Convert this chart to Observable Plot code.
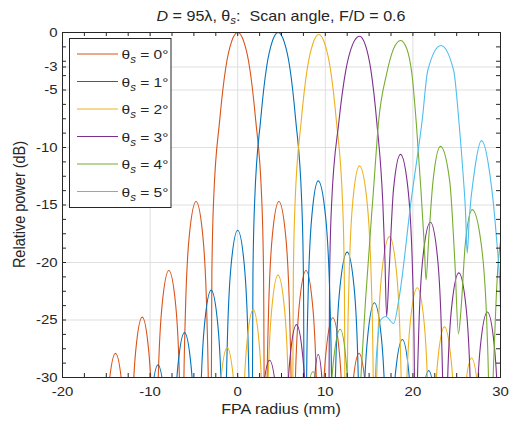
<!DOCTYPE html>
<html>
<head>
<meta charset="utf-8">
<script src="https://cdn.jsdelivr.net/npm/d3@7"></script>
<script src="https://cdn.jsdelivr.net/npm/@observablehq/plot@0.6"></script>
<style>
  html, body { margin: 0; padding: 0; background: #fff; }
  #chart svg { display: block; }
</style>
</head>
<body>
<div id="chart"></div>
<script>
// ---------- data ----------
const seriesNames = ["θs = 0°", "θs = 1°", "θs = 2°", "θs = 3°", "θs = 4°", "θs = 5°"];
const seriesColors = ["#D95319", "#0072BD", "#EDB120", "#7E2F8E", "#77AC30", "#4DBEEE"];

const xTicks = [-20, -10, 0, 10, 20, 30];
const yTicks = [0, -3, -5, -10, -15, -20, -25, -30];
const xMinorTicks = [-17.5, -15, -12.5, -7.5, -5, -2.5, 2.5, 5, 7.5, 12.5, 15, 17.5, 22.5, 25, 27.5];
const yMinorTicks = [-1.25, -2.5, -3.75, -6.25, -7.5, -8.75, -11.25, -12.5, -13.75, -16.25, -17.5, -18.75, -21.25, -22.5, -23.75, -26.25, -27.5, -28.75];

// FPA radius (mm), relative power (dB); points below -30 dB are nulls outside the frame
const theta0 = [
  [-15.5,-60],[-15.19,-38.1],[-14.73,-30.9],[-13.95,-27.9],[-13.18,-30.9],[-12.7,-38.1],
  [-12.4,-60],[-12.1,-35],[-11.65,-27.75],[-10.9,-24.75],[-10.15,-27.75],[-9.7,-35],
  [-9.4,-60],[-9.28,-38.7],[-9.1,-30.9],[-8.63,-23.7],[-7.86,-20.7],[-7.08,-23.7],[-6.62,-30.9],[-6.43,-38.7],
  [-6.3,-60],[-6.18,-32.7],[-5.99,-24.9],[-5.53,-17.7],[-4.75,-14.7],[-3.98,-17.7],[-3.51,-24.9],[-3.32,-32.7],
  [-3.2,-60],[-2.95,-21],[-2.75,-14.6],[-2.05,-7.6],[-1.35,-3],[-0.7,-0.8],[0,0],[0.7,-0.8],[1.35,-3],[2.05,-7.6],[2.75,-14.6],[2.95,-21],
  [3.2,-60],[3.32,-32.7],[3.5,-24.9],[3.95,-17.7],[4.7,-14.7],[5.48,-17.7],[5.94,-24.9],[6.13,-32.7],
  [6.25,-60],[6.37,-38.7],[6.56,-30.9],[7.03,-23.7],[7.8,-20.7],[8.55,-23.7],[9.0,-30.9],[9.18,-38.7],
  [9.3,-60],[9.61,-35],[10.08,-27.8],[10.86,-24.8],[11.6,-27.8],[12.05,-35],
  [12.35,-60],[12.65,-38.1],[13.1,-30.9],[13.85,-27.9],[14.6,-30.9],[15.05,-38.1],
  [15.35,-60]
];
const theta1 = [
  [-10.6,-60],[-10.3,-39.1],[-9.85,-31.9],[-9.1,-28.9],[-8.35,-31.9],[-7.9,-39.1],
  [-7.6,-60],[-7.29,-36.3],[-6.84,-29.1],[-6.07,-26.1],[-5.31,-29.1],[-4.85,-36.3],
  [-4.55,-60],[-4.25,-32.6],[-3.79,-25.4],[-3.03,-22.4],[-2.27,-25.4],[-1.81,-32.6],
  [-1.5,-60],[-1.38,-35.2],[-1.2,-27.4],[-0.75,-20.2],[0,-17.2],[0.75,-20.2],[1.2,-27.4],[1.38,-35.2],
  [1.5,-60],[1.74,-21],[1.94,-14.6],[2.62,-7.6],[3.3,-3],[3.94,-0.8],[4.62,0],[5.3,-0.8],[5.94,-3],[6.62,-7.6],[7.3,-14.6],[7.5,-21],
  [7.74,-60],[7.86,-30.9],[8.03,-23.1],[8.47,-15.9],[9.19,-12.9],[10.02,-15.9],[10.52,-23.1],[10.72,-30.9],
  [10.85,-60],[11.0,-37.1],[11.18,-29.3],[11.68,-22.1],[12.5,-19.1],[13.28,-22.1],[13.74,-29.3],[13.93,-37.1],
  [14.05,-60],[14.36,-33.7],[14.83,-26.5],[15.6,-23.5],[16.4,-26.5],[16.88,-33.7],
  [17.2,-60],[17.52,-36.9],[18.0,-29.7],[18.8,-26.7],[19.55,-29.7],[20.0,-36.9],
  [20.3,-60],[20.6,-39.6],[21.05,-32.4],[21.8,-29.4],[22.55,-32.4],[23.0,-39.6],
  [23.3,-60]
];
const theta2 = [
  [-2.7,-60],[-2.4,-37.6],[-1.95,-30.4],[-1.2,-27.4],[-0.45,-30.4],[0.0,-37.6],
  [0.3,-60],[0.6,-34.3],[1.04,-27.1],[1.77,-24.1],[2.46,-27.1],[2.87,-34.3],
  [3.15,-60],[3.44,-31.3],[3.88,-24.1],[4.6,-21.1],[5.35,-24.1],[5.8,-31.3],
  [6.1,-60],[6.35,-21.2],[6.55,-14.8],[7.24,-7.8],[7.93,-3.2],[8.57,-1.0],[9.26,-0.17],[9.95,-1.0],[10.59,-3.2],[11.28,-7.8],[11.97,-14.8],[12.17,-21.2],
  [12.4,-60],[12.52,-29.6],[12.7,-21.8],[13.15,-14.6],[13.9,-11.6],[14.75,-14.6],[15.26,-21.8],[15.46,-29.6],
  [15.6,-60],[15.74,-35.75],[15.95,-27.95],[16.47,-20.75],[17.33,-17.75],[18.12,-20.75],[18.59,-27.95],[18.77,-35.75],
  [18.9,-60],[19.22,-32.4],[19.7,-25.2],[20.5,-22.2],[21.28,-25.2],[21.74,-32.4],
  [22.05,-60],[22.36,-35.8],[22.83,-28.6],[23.6,-25.6],[24.38,-28.6],[24.84,-35.8],
  [25.15,-60],[25.46,-38.5],[25.93,-31.3],[26.7,-28.3],[27.45,-31.3],[27.9,-38.5],
  [28.2,-60]
];
const theta3 = [
  [2.1,-60],[2.41,-38.7],[2.87,-31.5],[3.63,-28.5],[4.42,-31.5],[4.89,-38.7],
  [5.2,-60],[5.5,-35.6],[5.96,-28.4],[6.71,-25.4],[7.46,-28.4],[7.9,-35.6],
  [8.2,-60],[8.4,-38.2],[8.7,-31],[9.19,-28],[9.7,-31],[10.0,-38.2],
  [10.2,-60],[10.49,-21.3],[10.72,-14.9],[11.53,-7.9],[12.34,-3.3],[13.09,-1.1],[13.9,-0.32],[14.58,-1.1],[15.21,-3.3],[15.89,-7.9],[16.57,-14.9],[16.8,-19.5],
  [17.0,-24.7],[17.3,-20.5],[17.79,-13.6],[18.58,-10.6],[19.44,-13.6],[19.96,-20.8],[20.16,-28.6],
  [20.3,-60],[20.44,-34.5],[20.64,-26.7],[21.15,-19.5],[22.0,-16.5],[22.8,-19.5],[23.28,-26.7],[23.47,-34.5],
  [23.6,-60],[23.73,-38.9],[23.93,-31.1],[24.42,-23.9],[25.24,-20.9],[26.07,-23.9],[26.57,-31.1],[26.77,-38.9],
  [26.9,-60],[27.22,-34.5],[27.7,-27.3],[28.5,-24.3],[29.3,-27.3],[29.78,-34.5],
  [30.1,-60]
];
const theta4 = [
  [5.6,-60],[7.4,-39.7],[7.83,-32.5],[8.58,-29.5],[9.33,-32.5],[9.78,-39.7],
  [10.1,-60],[10.42,-36],[10.9,-28.8],[11.7,-25.8],[12.4,-28.8],[12.82,-36],
  [13.1,-60],[13.6,-40],[14.0,-31],[14.2,-28.2],[14.6,-23.2],[15.5,-13.7],[16.1,-7.63],[17.0,-3.6],[17.8,-1.4],[18.6,-0.69],
  [19.3,-1.4],[19.9,-3.7],[20.4,-8],[20.9,-13.5],[21.3,-18.5],[21.5,-21.5],
  [21.8,-18],[22.3,-12.9],[23.15,-9.9],[24.2,-12.9],[24.8,-20.1],[25.2,-26.2],
  [25.5,-24],[25.98,-18.4],[26.77,-15.4],[27.8,-18.4],[28.45,-25.6],[28.7,-33.4],
  [28.9,-60],[29.05,-34],[29.35,-26.2],[29.8,-19.5],[30.7,-16]
];
const theta5 = [
  [15.5,-60],[15.7,-30.5],[16.0,-26.6],[16.3,-25.0],[16.9,-24.7],[17.8,-25.3],[18.4,-23.2],[19.8,-14.6],[21.06,-7.63],[21.7,-3.3],[23.2,-1.13],
  [24.65,-3.3],[25.24,-7.63],[25.7,-12],[26.0,-15.5],[26.2,-19.2],
  [26.45,-16],[27.0,-12.2],[27.83,-9.4],[28.8,-12.4],[29.5,-17.5],[30.0,-23.5],[30.3,-40]
];
const seriesPoints = [theta0, theta1, theta2, theta3, theta4, theta5];

// ---------- table for the library ----------
const rows = seriesPoints.flatMap((pts, i) => pts.map(([x, y]) => ({x, y, s: seriesNames[i]})));

// ---------- layout ----------
const W = 516, H = 421;
const mL = 62, mR = 16, mT = 32, mB = 44;
const fw = W - mL - mR, fh = H - mT - mB;
const ink = "#262626";
const tl = 4;

const svg = Plot.plot({
  width: W, height: H,
  marginLeft: mL, marginRight: mR, marginTop: mT, marginBottom: mB,
  style: {fontFamily: "'Liberation Sans', Arial, Helvetica, sans-serif", fontSize: "13px", color: ink, background: "#fff", overflow: "visible"},
  x: {domain: [-20, 30], label: null},
  y: {domain: [-30, 0], label: null},
  color: {domain: seriesNames, range: seriesColors},
  marks: [
    Plot.ruleX(xTicks.filter(d => d > -20 && d < 30), {stroke: "#dfdfdf", strokeWidth: 1}),
    Plot.ruleY(yTicks.filter(d => d > -30 && d < 0), {stroke: "#dfdfdf", strokeWidth: 1}),
    Plot.line(rows, {x: "x", y: "y", z: "s", stroke: "s", curve: "monotone-x", clip: true, strokeWidth: 1.1}),
    // inward tick marks on all four sides
    Plot.ruleX(xTicks.concat(xMinorTicks), {insetTop: fh - tl, stroke: ink}),
    Plot.ruleX(xTicks.concat(xMinorTicks), {insetBottom: fh - tl, stroke: ink}),
    Plot.ruleY(yTicks.concat(yMinorTicks), {insetRight: fw - tl, stroke: ink}),
    Plot.ruleY(yTicks.concat(yMinorTicks), {insetLeft: fw - tl, stroke: ink}),
    Plot.frame({stroke: ink, strokeWidth: 1}),
    Plot.axisX({ticks: xTicks, tickSize: 0, tickPadding: 9, tickFormat: d => String(d), fontSize: 13, label: null}),
    Plot.axisY({ticks: yTicks, tickSize: 0, tickPadding: 5, tickFormat: d => String(d), fontSize: 13, label: null})
  ]
});
document.getElementById("chart").appendChild(svg);

// the reference typography is stretched horizontally (~1.15x)
const sx = 1.15;
d3.select(svg).selectAll('g[aria-label$="tick label"] text')
  .attr("transform", function() { return (this.getAttribute("transform") || "") + ` scale(${sx},1)`; })
  .attr("fill", ink);

const root = d3.select(svg).append("g")
  .attr("font-family", "'Liberation Sans', Arial, Helvetica, sans-serif")
  .attr("fill", ink);

// title
const title = root.append("text")
  .attr("transform", `translate(${mL + fw / 2},21) scale(${sx},1)`)
  .attr("text-anchor", "middle").attr("font-size", 14)
  .style("white-space", "pre");
title.append("tspan").attr("font-style", "italic").text("D");
title.append("tspan").text(" = 95λ, θ");
title.append("tspan").attr("font-style", "italic").attr("font-size", 10).attr("dy", 3).text("s");
title.append("tspan").attr("dy", -3).text(":  Scan angle, F/D = 0.6");

// axis labels
root.append("text")
  .attr("transform", `translate(${mL + fw / 2},414) scale(${sx},1)`)
  .attr("text-anchor", "middle").attr("font-size", 14)
  .text("FPA radius (mm)");
root.append("text")
  .attr("transform", `translate(25,${mT + fh / 2}) rotate(-90) scale(1,${sx})`)
  .attr("text-anchor", "middle").attr("font-size", 14.5)
  .text("Relative power (dB)");

// legend
const lg = root.append("g");
lg.append("rect").attr("x", 69.5).attr("y", 38.5).attr("width", 101.5).attr("height", 169)
  .attr("fill", "#fff").attr("stroke", ink).attr("stroke-width", 1);
seriesNames.forEach((name, i) => {
  const yy = 54 + i * 27.5;
  lg.append("line").attr("x1", 77).attr("x2", 118).attr("y1", yy).attr("y2", yy)
    .attr("stroke", seriesColors[i]).attr("stroke-width", 1.1);
  const t = lg.append("text").attr("transform", `translate(121.5,${yy + 5}) scale(${sx},1)`)
    .attr("text-anchor", "start").attr("font-size", 13.5);
  t.append("tspan").text("θ");
  t.append("tspan").attr("font-style", "italic").attr("font-size", 10).attr("dy", 4).text("s");
  t.append("tspan").attr("dy", -4).text(name.slice(2));
});
</script>
</body>
</html>
